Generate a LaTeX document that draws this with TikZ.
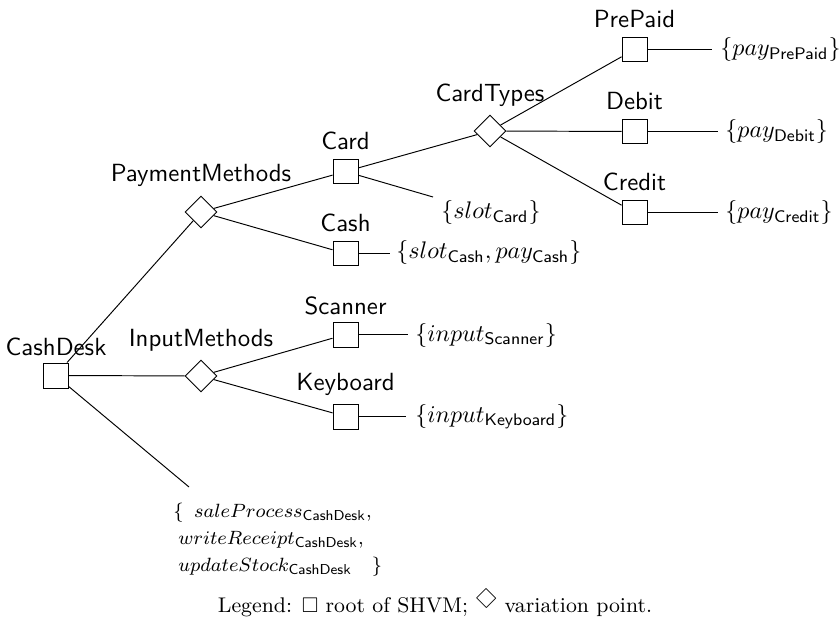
\documentclass[tikz,border=0pt]{standalone}
\usepackage{amssymb}
\usepackage{graphicx}
\usetikzlibrary{shapes.geometric}
\begin{document}
\begin{tikzpicture}[x=0.41667pt,y=-0.41667pt,
  rootbox/.style={draw,rectangle,minimum size=10.4pt,inner sep=0pt},
  vpoint/.style={draw,diamond,aspect=1,minimum width=13.3pt,minimum height=13.3pt,inner sep=0pt},
  lbl/.style={font=\fontsize{10.35}{12}\selectfont\sffamily,anchor=base,inner sep=0pt},
  setnode/.style={anchor=base west,inner sep=0pt}]
\useasboundingbox (0,0) rectangle (839,626);
% feature boxes and variation points
\node[rootbox] (cashdesk) at (55.5,375.5) {};
\node[vpoint] (paym) at (201,212) {};
\node[vpoint] (inpm) at (201,376) {};
\node[rootbox] (card) at (345.5,171.5) {};
\node[rootbox] (cash) at (345.5,253.5) {};
\node[rootbox] (scanner) at (345.5,334.5) {};
\node[rootbox] (keyboard) at (345.5,416.5) {};
\node[vpoint] (cardtypes) at (490,131) {};
\node[rootbox] (prepaid) at (634.5,49.5) {};
\node[rootbox] (debit) at (634.5,131.5) {};
\node[rootbox] (credit) at (634.5,212.5) {};
% labels
\node[lbl] (lcashdesk) at (56,355) {CashDesk};
\node[lbl] (lpaym) at (201,182) {PaymentMethods};
\node[lbl] (linpm) at (201,346) {InputMethods};
\node[lbl] (lcard) at (345.5,150) {Card};
\node[lbl] (lcash) at (345.5,232) {Cash};
\node[lbl] (lscanner) at (345.5,314) {Scanner};
\node[lbl] (lkeyboard) at (345.5,390) {Keyboard};
\node[lbl] (lcardtypes) at (490,102) {CardTypes};
\node[lbl] (lprepaid) at (634.5,28) {PrePaid};
\node[lbl] (ldebit) at (634.5,110) {Debit};
\node[lbl] (lcredit) at (634.5,191) {Credit};
% sets
\node[setnode] (sprepaid) at (720,56) {$\{pay_{\mathsf{PrePaid}}\}$};
\node[setnode] (sdebit) at (725,138) {$\{pay_{\mathsf{Debit}}\}$};
\node[setnode] (scredit) at (725,219) {$\{pay_{\mathsf{Credit}}\}$};
\node[setnode] (scard) at (441,219) {$\{slot_{\mathsf{Card}}\}$};
\node[setnode] (scash) at (396,259) {$\{slot_{\mathsf{Cash}}, pay_{\mathsf{Cash}}\}$};
\node[setnode] (sscanner) at (415,341) {$\{input_{\mathsf{Scanner}}\}$};
\node[setnode] (skeyboard) at (415,422) {$\{input_{\mathsf{Keyboard}}\}$};
\node[setnode,align=left,font=\fontsize{8.3}{11.25}\selectfont] (scashdesk) at (173,571)
  {$\{\ \,saleProcess_{\mathsf{CashDesk}},$\\
   \hspace{2pt}$writeReceipt_{\mathsf{CashDesk}},$\\
   \hspace{2pt}$updateStock_{\mathsf{CashDesk}}\quad\}$};
\node[anchor=base,inner sep=0pt,font=\fontsize{8.85}{10.6}\selectfont] (legend) at (435,612)
  {Legend: $\Box$ root of SHVM; \raisebox{1.2pt}{\rotatebox{45}{$\Box$}} variation point.};
% connector ends
\coordinate (eprepaid) at (712,49.5);
\coordinate (edebit) at (718,131.5);
\coordinate (ecredit) at (718,212.5);
\coordinate (ecard) at (433,197);
\coordinate (ecash) at (390,253.5);
\coordinate (escanner) at (408,334.5);
\coordinate (ekeyboard) at (406,416.5);
\coordinate (ecashdesk) at (189,487);
% connectors
\draw (cashdesk) -- (paym);
\draw (cashdesk) -- (inpm);
\draw (cashdesk) -- (ecashdesk);
\draw (paym) -- (card);
\draw (paym) -- (cash);
\draw (inpm) -- (scanner);
\draw (inpm) -- (keyboard);
\draw (card) -- (cardtypes);
\draw (card) -- (ecard);
\draw (cash) -- (ecash);
\draw (scanner) -- (escanner);
\draw (keyboard) -- (ekeyboard);
\draw (cardtypes) -- (prepaid);
\draw (cardtypes) -- (debit);
\draw (cardtypes) -- (credit);
\draw (prepaid) -- (eprepaid);
\draw (debit) -- (edebit);
\draw (credit) -- (ecredit);
\end{tikzpicture}
\end{document}
